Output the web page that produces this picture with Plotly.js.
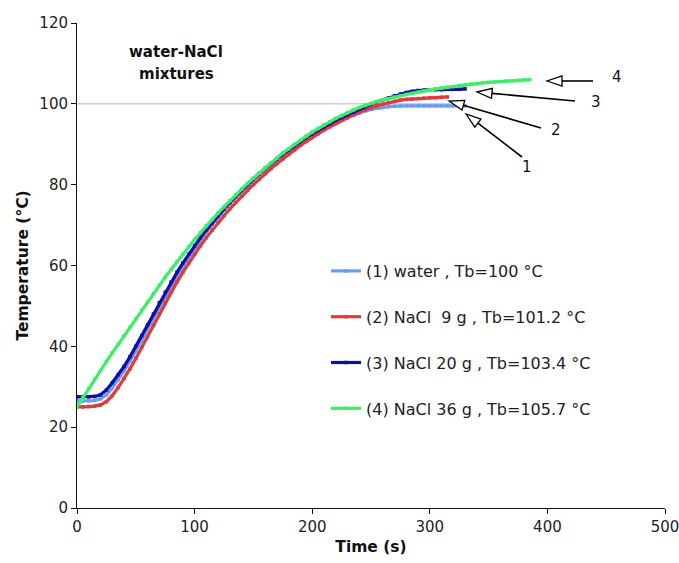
<!DOCTYPE html>
<html>
<head>
<meta charset="utf-8">
<script src="https://cdn.plot.ly/plotly-3.0.1.min.js"></script>
<style>html,body{margin:0;padding:0;background:#fff;}#chart{width:679px;height:563px;}</style>
</head>
<body>
<div id="chart"></div>
<script>
// Time step of readings (s) is implied by array position: every 5 s from 0
const timeStep = 5;
const waterTemp = [26.5,26.5,26.5,26.6,27.0,28.0,29.7,31.7,33.9,36.3,38.8,41.4,44.1,46.8,49.5,52.2,54.8,57.3,59.7,62.0,64.2,66.3,68.3,70.2,72.0,73.7,75.3,76.9,78.4,79.8,81.2,82.5,83.8,85.0,86.2,87.3,88.4,89.4,90.4,91.3,92.2,93.0,93.8,94.6,95.3,96.0,96.6,97.2,97.7,98.2,98.6,98.9,99.1,99.3,99.4,99.5,99.5,99.5,99.5,99.5,99.5,99.5,99.5,99.5,99.5,99.5,99.5];
const nacl9Temp = [25.0,25.0,25.1,25.2,25.5,26.3,27.8,29.8,32.0,34.4,37.0,39.7,42.4,45.2,48.0,50.8,53.4,55.9,58.3,60.6,62.8,64.9,66.9,68.8,70.6,72.3,74.0,75.6,77.1,78.6,80.0,81.4,82.7,84.0,85.2,86.4,87.5,88.6,89.7,90.7,91.7,92.6,93.5,94.3,95.1,95.9,96.6,97.3,97.9,98.5,99.0,99.5,99.9,100.3,100.6,100.9,101.1,101.2,101.3,101.4,101.5,101.5,101.6,101.7];
const nacl20Temp = [27.5,27.5,27.5,27.6,28.0,29.2,31.0,33.0,35.0,37.4,40.0,42.6,45.3,48.0,50.8,53.4,55.9,58.3,60.6,62.8,64.9,66.9,68.8,70.6,72.3,74.0,75.6,77.1,78.6,80.0,81.4,82.7,84.0,85.2,86.4,87.5,88.6,89.7,90.7,91.7,92.6,93.5,94.3,95.1,95.9,96.6,97.3,98.0,98.7,99.3,99.9,100.5,101.0,101.5,102.0,102.4,102.8,103.1,103.3,103.4,103.5,103.5,103.5,103.6,103.6,103.6,103.7];
const nacl36Temp = [25.0,27.3,29.6,31.8,34.0,36.2,38.4,40.5,42.6,44.7,46.8,48.9,51.0,53.1,55.1,57.1,59.0,60.9,62.8,64.6,66.4,68.1,69.8,71.4,73.0,74.5,76.0,77.5,78.9,80.3,81.6,82.9,84.2,85.4,86.6,87.8,88.9,90.0,91.0,92.0,93.0,93.9,94.8,95.6,96.4,97.1,97.8,98.5,99.1,99.6,100.1,100.6,101.0,101.3,101.7,102.0,102.3,102.6,102.9,103.2,103.5,103.7,103.9,104.1,104.3,104.5,104.7,104.9,105.0,105.2,105.3,105.4,105.5,105.6,105.7,105.8,105.9,106.0];
const seriesNames = ["(1) water , Tb=100 °C","(2) NaCl  9 g , Tb=101.2 °C","(3) NaCl 20 g , Tb=103.4 °C","(4) NaCl 36 g , Tb=105.7 °C"];
const seriesColors = ["#6c9cf6","#e03a3a","#1010a0","#3cee6a"];
const arrowLabels = ["1","2","3","4"];
const titleLines = ["water-NaCl","mixtures"];
const boilingRef = 100;
const boilingRefEnd = 322;
const xTicks = [0,100,200,300,400,500];
const yTicks = [0,20,40,60,80,100,120];

const allTemps = [waterTemp, nacl9Temp, nacl20Temp, nacl36Temp];
const times = arr => arr.map((_, i) => i * timeStep);

const traces = allTemps.map((arr, i) => ({
  type: 'scatter', mode: 'lines+markers',
  x: times(arr), y: arr, name: seriesNames[i],
  legendgroup: 'g' + i,
  line: {color: seriesColors[i], width: 3.2},
  marker: {color: seriesColors[i], size: 3.5, symbol: 'square'}
}));

const FONT = 'DejaVu Sans, Verdana, sans-serif';
// plot area in page pixels
const L = 77, R = 665, T = 23, B = 508;
const W = 679, H = 563;
const px2paper = (px, py) => [(px - L) / (R - L), (B - py) / (B - T)];

// arrows: [tail px, tip px, label px] in page pixel positions
const arrowGeom = [
  [[522,157],[466,114],[527,167]],
  [[541,128],[449,101],[556,130]],
  [[575,101],[477,92],[596,102]],
  [[593,81],[547,81],[617,77]]
];
const shapes = [{
  type: 'line', xref: 'x', yref: 'y', x0: 0, x1: boilingRefEnd, y0: boilingRef, y1: boilingRef,
  line: {color: '#cfcfcf', width: 1.5}, layer: 'below'
}];
const annotations = [];
[[176, 52], [176, 74]].forEach((p, i) => {
  const q = px2paper(...p);
  annotations.push({
    xref: 'paper', yref: 'paper', x: q[0], y: q[1], xanchor: 'center', yanchor: 'middle',
    text: '<b>' + titleLines[i] + '</b>', showarrow: false,
    font: {family: FONT, size: 15, color: '#111'}
  });
});
arrowGeom.forEach((g, i) => {
  const [tail, tip, lab] = g;
  const dx = tail[0] - tip[0], dy = tail[1] - tip[1];
  const len = Math.hypot(dx, dy);
  const ux = dx / len, uy = dy / len;
  const hl = 15, hw = 5;
  const base = [tip[0] + ux * hl, tip[1] + uy * hl];
  const p1 = [base[0] - uy * hw, base[1] + ux * hw];
  const p2 = [base[0] + uy * hw, base[1] - ux * hw];
  const a = px2paper(...tail), b = px2paper(...base);
  shapes.push({type: 'line', xref: 'paper', yref: 'paper', x0: a[0], y0: a[1], x1: b[0], y1: b[1],
    line: {color: '#000', width: 1.6}});
  const t = px2paper(...tip), q1 = px2paper(...p1), q2 = px2paper(...p2);
  shapes.push({type: 'path', xref: 'paper', yref: 'paper',
    path: `M ${t[0]} ${t[1]} L ${q1[0]} ${q1[1]} L ${q2[0]} ${q2[1]} Z`,
    fillcolor: '#fff', line: {color: '#000', width: 1.3}});
  const l = px2paper(...lab);
  annotations.push({xref: 'paper', yref: 'paper', x: l[0], y: l[1], xanchor: 'center', yanchor: 'middle',
    text: arrowLabels[i], showarrow: false, font: {family: FONT, size: 15, color: '#111'}});
});

const tickFont = {family: FONT, size: 15, color: '#222'};
const titleFont = {family: FONT, size: 15.5, color: '#111'};
const layout = {
  width: W, height: H,
  margin: {l: L, r: W - R, t: T, b: H - B},
  paper_bgcolor: '#fff', plot_bgcolor: '#fff',
  showlegend: true,
  legend: {x: (326 - L) / (R - L), y: (508 - 254) / (B - T), xanchor: 'left', yanchor: 'top',
    font: {family: FONT, size: 16, color: '#222'},
    tracegroupgap: 22, traceorder: 'grouped', bgcolor: 'rgba(0,0,0,0)', itemwidth: 30},
  xaxis: {range: [0, 500], tickvals: xTicks, showgrid: false, zeroline: false,
    showline: true, linecolor: '#111', linewidth: 1, ticks: 'outside', ticklen: 5, tickcolor: '#111',
    tickfont: tickFont, ticklabeloverflow: 'allow',
    title: {text: '<b>Time (s)</b>', font: titleFont, standoff: 6}},
  yaxis: {range: [0, 120], tickvals: yTicks, showgrid: false, zeroline: false,
    showline: true, linecolor: '#111', linewidth: 1, ticks: 'outside', ticklen: 5, tickcolor: '#111',
    tickfont: tickFont,
    title: {text: '<b>Temperature (°C)</b>', font: titleFont, standoff: 6}},
  shapes: shapes, annotations: annotations
};
Plotly.newPlot('chart', traces, layout, {displayModeBar: false, staticPlot: true});
</script>
</body>
</html>
